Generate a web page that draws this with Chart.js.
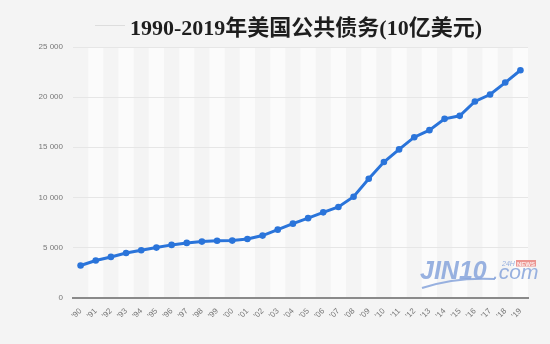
<!DOCTYPE html>
<html>
<head>
<meta charset="utf-8">
<script src="https://cdn.jsdelivr.net/npm/chart.js@4/dist/chart.umd.min.js"></script>
<style>
html,body{margin:0;padding:0;background:#f4f4f4;}
#wrap{width:550px;height:344px;position:relative;}
</style>
</head>
<body>
<div id="wrap"><canvas id="c" width="550" height="344"></canvas></div>
<script>
const titleText = '1990-2019年美国公共债务(10亿美元)';
const years = ["'90","'91","'92","'93","'94","'95","'96","'97","'98","'99","'00","'01","'02","'03","'04","'05","'06","'07","'08","'09","'10","'11","'12","'13","'14","'15","'16","'17","'18","'19"];
const debt = [3190,3690,4050,4440,4720,4980,5250,5450,5580,5670,5680,5840,6180,6770,7370,7920,8500,9030,10060,11850,13520,14780,16000,16700,17830,18130,19560,20260,21450,22680];
const yTicks = [0,5000,10000,15000,20000,25000];

const LEFT = 73, BOTTOM = 297.5, TOP = 47;

const decor = {
  id: 'decor',
  beforeDraw(chart) {
    const {ctx, chartArea: ca, scales: {x}} = chart;
    ctx.save();
    const half = (x.getPixelForValue(1) - x.getPixelForValue(0)) / 2;
    for (let i = 0; i < years.length; i++) {
      if (i % 2 === 1) {
        const cx = x.getPixelForValue(i);
        ctx.fillStyle = '#fbfbfb';
        ctx.fillRect(cx - half, ca.top, half * 2, ca.bottom - ca.top);
      }
    }
    ctx.restore();
  },
  afterDraw(chart) {
    const ctx = chart.ctx;
    ctx.save();
    // title
    ctx.strokeStyle = '#dddddd';
    ctx.lineWidth = 1;
    ctx.beginPath();
    ctx.moveTo(95, 25.5);
    ctx.lineTo(125, 25.5);
    ctx.stroke();
    ctx.fillStyle = '#1e1e1e';
    ctx.font = 'bold 22px "Liberation Serif", "DejaVu Serif", "Noto Sans CJK SC", serif';
    ctx.textBaseline = 'alphabetic';
    ctx.textAlign = 'left';
    ctx.fillText(titleText, 130, 35);
    // watermark
    ctx.globalAlpha = 0.85;
    ctx.fillStyle = '#86a3da';
    ctx.font = 'italic bold 25px "Liberation Sans", Arial, sans-serif';
    ctx.fillText('JIN10', 420, 278.5);
    ctx.font = 'italic 21px "Liberation Sans", Arial, sans-serif';
    ctx.fillText('.com', 493, 278.5);
    ctx.font = 'italic 7px "Liberation Sans", Arial, sans-serif';
    ctx.fillText('24H', 502, 266);
    ctx.fillStyle = '#e9827e';
    ctx.fillRect(516, 260, 20, 6.5);
    ctx.fillStyle = '#ffffff';
    ctx.font = 'bold 6px "Liberation Sans", Arial, sans-serif';
    ctx.fillText('NEWS', 517, 265.8);
    ctx.strokeStyle = '#86a3da';
    ctx.lineWidth = 2;
    ctx.beginPath();
    ctx.moveTo(422, 288);
    ctx.quadraticCurveTo(455, 277, 495, 279);
    ctx.stroke();
    ctx.restore();
  }
};

new Chart(document.getElementById('c'), {
  type: 'line',
  data: {
    labels: years,
    datasets: [{
      data: debt,
      borderColor: '#2a74da',
      backgroundColor: '#2a74da',
      borderWidth: 3,
      pointRadius: 3.3,
      pointHoverRadius: 3.3,
      pointBorderWidth: 0,
      tension: 0
    }]
  },
  options: {
    responsive: false,
    animation: false,
    layout: { padding: { top: TOP, right: 22, left: 0, bottom: 0 } },
    plugins: { legend: { display: false }, tooltip: { enabled: false }, title: { display: false } },
    scales: {
      x: {
        offset: true,
        grid: { display: false, drawTicks: false },
        border: { display: true, color: '#8a8a8a', width: 2 },
        ticks: {
          autoSkip: false,
          minRotation: 45, maxRotation: 45,
          color: '#777',
          padding: 9,
          font: { family: '"Liberation Sans", Arial, sans-serif', size: 8 }
        },
        afterFit(s) { s.height = 344 - BOTTOM; }
      },
      y: {
        min: 0, max: 25000,
        afterBuildTicks(s) { s.ticks = yTicks.map(v => ({ value: v })); },
        grid: {
          drawTicks: false,
          color: ctx => ctx.tick && ctx.tick.value === 0 ? 'rgba(0,0,0,0)' : '#e6e6e6',
          lineWidth: 1
        },
        border: { display: false },
        ticks: {
          padding: 10,
          color: '#777',
          font: { family: '"Liberation Sans", Arial, sans-serif', size: 8 },
          callback: v => String(v).replace(/\B(?=(\d{3})+(?!\d))/g, ' ')
        },
        afterFit(s) { s.width = LEFT; }
      }
    }
  },
  plugins: [decor]
});
</script>
</body>
</html>
